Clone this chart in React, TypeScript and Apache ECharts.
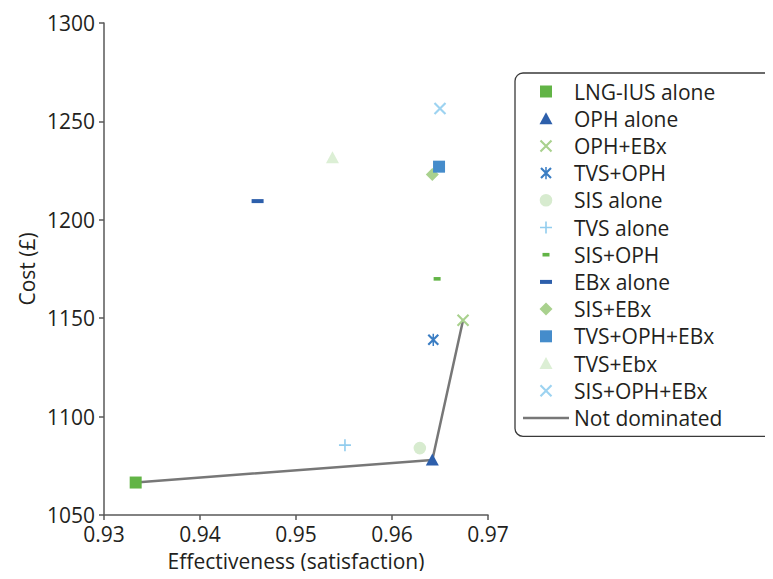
import React, { useEffect, useRef } from "react";
import * as echarts from "echarts";

// ---- data ----
const seriesNames = [
  "LNG-IUS alone",
  "OPH alone",
  "OPH+EBx",
  "TVS+OPH",
  "SIS alone",
  "TVS alone",
  "SIS+OPH",
  "EBx alone",
  "SIS+EBx",
  "TVS+OPH+EBx",
  "TVS+Ebx",
  "SIS+OPH+EBx",
];
const effectiveness = [0.9333, 0.9642, 0.9674, 0.9643, 0.9629, 0.9551, 0.9647, 0.946, 0.9642, 0.9649, 0.9538, 0.965];
const cost = [1066.5, 1078, 1149, 1139, 1084, 1085.5, 1170, 1209.5, 1223, 1227, 1231.5, 1256.5];
const frontierNames = ["LNG-IUS alone", "OPH alone", "OPH+EBx"];
const frontierLabel = "Not dominated";
const xTicks = { min: 0.93, max: 0.97, step: 0.01 };
const yTicks = { min: 1050, max: 1300, step: 50 };

// ---- styling ----
const colors = [
  "#62b446", "#2d5fab", "#a9d18e", "#3a7dc3", "#d7ebcf", "#92cdee",
  "#62b446", "#2d5fab", "#a9d18e", "#458ccb", "#dcefd5", "#9dd3f1",
];
type Kind = "square" | "triangle" | "x" | "asterisk" | "circle" | "plus" | "dashS" | "dashL" | "diamond" | "line";
const kinds: Kind[] = ["square", "triangle", "x", "asterisk", "circle", "plus", "dashS", "dashL", "diamond", "square", "triangle", "x"];

type Pt = [number, number];
const fmt = (n: number) => Math.round(n * 100) / 100;
const poly = (pts: Pt[], cx: number, cy: number) =>
  "M" + pts.map(([a, b]) => `${fmt(a + cx)},${fmt(b + cy)}`).join("L") + "Z";

function shapePath(kind: Kind, cx: number, cy: number): string {
  switch (kind) {
    case "square": { const h = 6; return poly([[-h, -h], [h, -h], [h, h], [-h, h]], cx, cy); }
    case "triangle": { const h = 6.5; return poly([[0, -h], [h, h * 0.85], [-h, h * 0.85]], cx, cy); }
    case "diamond": { const h = 6.5; return poly([[0, -h], [h, 0], [0, h], [-h, 0]], cx, cy); }
    case "circle": {
      const r = 6.3;
      return `M${cx - r},${cy}A${r},${r},0,1,1,${cx + r},${cy}A${r},${r},0,1,1,${cx - r},${cy}Z`;
    }
    case "dashS": return poly([[-3.5, -1.8], [3.5, -1.8], [3.5, 1.8], [-3.5, 1.8]], cx, cy);
    case "dashL": return poly([[-6, -2], [6, -2], [6, 2], [-6, 2]], cx, cy);
    case "line": return poly([[-23, -1.25], [23, -1.25], [23, 1.25], [-23, 1.25]], cx, cy);
    case "plus": {
      const h = 6, t = 0.8;
      return poly([[-t, -h], [t, -h], [t, h], [-t, h]], cx, cy) + poly([[-h, -t], [h, -t], [h, t], [-h, t]], cx, cy);
    }
    case "x": {
      const h = 5.5, t = 0.75;
      return (
        poly([[-h - t, -h + t], [-h + t, -h - t], [h + t, h - t], [h - t, h + t]], cx, cy) +
        poly([[h - t, -h - t], [h + t, -h + t], [-h + t, h + t], [-h - t, h - t]], cx, cy)
      );
    }
    case "asterisk": {
      const h = 5, t = 0.75, v = 6.2;
      return (
        poly([[-t, -v], [t, -v], [t, v], [-t, v]], cx, cy) +
        poly([[-h - t, -h + t], [-h + t, -h - t], [h + t, h - t], [h - t, h + t]], cx, cy) +
        poly([[h - t, -h - t], [h + t, -h + t], [-h + t, h + t], [-h - t, h - t]], cx, cy)
      );
    }
  }
}

const ICON_W = 46;
const ICON_H = 14;
const chartSymbol = (k: Kind) => `path://M0,0M16,16${shapePath(k, 8, 8)}`;
const legendIcon = (k: Kind) => `path://M0,0M${ICON_W},${ICON_H}${shapePath(k, ICON_W / 2, ICON_H / 2)}`;

const FONT = "'Open Sans', 'Noto Sans', sans-serif";
const TEXT = "#231f20";
const FS = 21;

export default function App() {
  const ref = useRef<HTMLDivElement>(null);
  useEffect(() => {
    if (!ref.current) return;
    const chart = echarts.init(ref.current, undefined, { renderer: "svg" });

    const scatterSeries = seriesNames.map((name, i) => ({
      type: "scatter" as const,
      name,
      data: [[effectiveness[i], cost[i]]],
      symbol: chartSymbol(kinds[i]),
      symbolSize: 16,
      itemStyle: { color: colors[i], opacity: 1 },
      z: 3,
      silent: true,
    }));

    const frontier = frontierNames.map((n) => {
      const i = seriesNames.indexOf(n);
      return [effectiveness[i], cost[i]];
    });

    chart.setOption({
      animation: false,
      textStyle: { fontFamily: FONT },
      grid: { left: 104, right: 285, top: 23, bottom: 64, containLabel: false },
      xAxis: {
        type: "value",
        min: xTicks.min,
        max: xTicks.max,
        interval: xTicks.step,
        name: "Effectiveness (satisfaction)",
        nameLocation: "middle",
        nameGap: 35,
        nameTextStyle: { fontSize: FS, color: TEXT, fontFamily: FONT },
        axisLine: { lineStyle: { color: "#595959", width: 1.5 } },
        axisTick: { inside: false, length: 5, lineStyle: { color: "#595959", width: 1.5 } },
        axisLabel: { fontSize: FS, color: TEXT, fontFamily: FONT, margin: 8, formatter: (v: number) => v.toFixed(2) },
        splitLine: { show: false },
      },
      yAxis: {
        type: "value",
        min: yTicks.min,
        max: yTicks.max,
        interval: yTicks.step,
        name: "Cost (£)",
        nameLocation: "middle",
        nameGap: 67,
        nameTextStyle: { fontSize: FS, color: TEXT, fontFamily: FONT },
        axisLine: { show: true, lineStyle: { color: "#595959", width: 1.5 } },
        axisTick: { show: true, inside: false, length: 5, lineStyle: { color: "#595959", width: 1.5 } },
        axisLabel: { fontSize: FS, color: TEXT, fontFamily: FONT, margin: 9, formatter: (v: number) => String(v) },
        splitLine: { show: false },
      },
      legend: {
        orient: "vertical",
        left: 515,
        top: 73,
        padding: [8, 56, 8, 8],
        itemGap: 6.2,
        itemWidth: ICON_W,
        itemHeight: ICON_H,
        symbolKeepAspect: true,
        borderColor: "#3a3a3a",
        borderWidth: 1.3,
        borderRadius: 8,
        textStyle: { fontSize: FS, color: TEXT, fontFamily: FONT },
        data: [
          ...seriesNames.map((name, i) => ({ name, icon: legendIcon(kinds[i]) })),
          { name: frontierLabel, icon: legendIcon("line") },
        ],
      },
      series: [
        {
          type: "line",
          name: frontierLabel,
          data: frontier,
          symbol: "none",
          lineStyle: { color: "#777777", width: 2.5 },
          itemStyle: { color: "#777777" },
          z: 2,
          silent: true,
        },
        ...scatterSeries,
      ],
    });
    return () => chart.dispose();
  }, []);
  return <div ref={ref} style={{ width: 773, height: 579, margin: -8 }} />;
}
